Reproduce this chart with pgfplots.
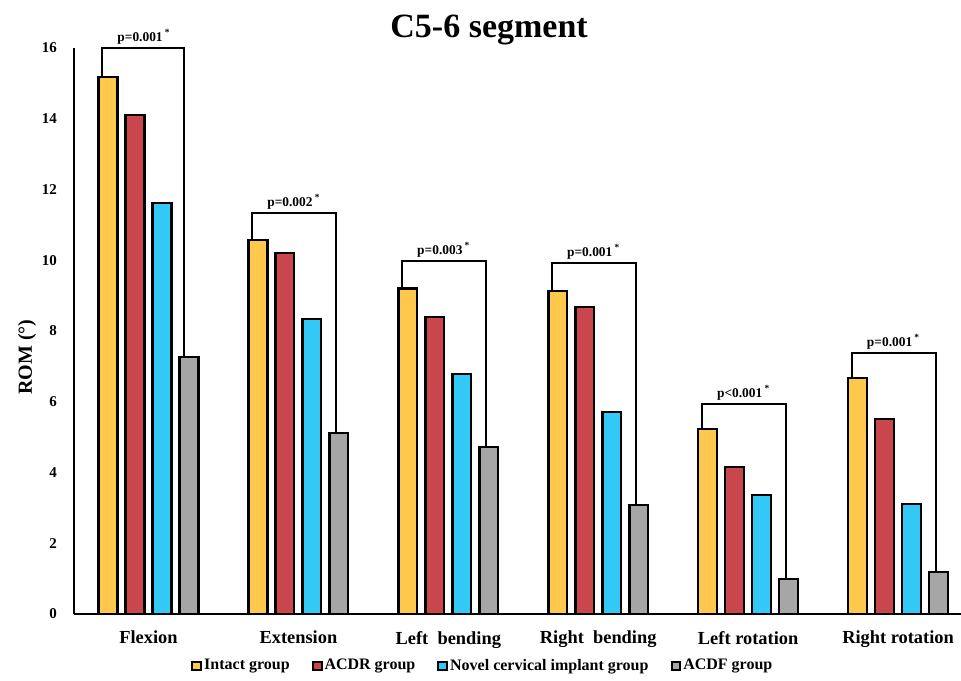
\documentclass[border=0pt]{standalone}
\usepackage{fontspec}
\setmainfont{Liberation Serif}
\usepackage{pgfplots}
\pgfplotsset{compat=1.18}
\definecolor{yc}{RGB}{253,200,75}
\definecolor{rc}{RGB}{200,70,76}
\definecolor{cc}{RGB}{51,201,246}
\definecolor{gc}{RGB}{166,166,166}
\begin{document}
\begin{tikzpicture}
\path[use as bounding box] (0,0) rectangle (480.5pt,340pt);
\begin{axis}[
  at={(37pt,33pt)}, anchor=south west,
  scale only axis, width=443.5pt, height=283pt,
  xmin=-0.497, xmax=5.42, ymin=0, ymax=16,
  clip=false,
  axis x line*=bottom, axis y line*=left,
  axis line style={line width=1pt},
  major tick length=0pt,
  ytick={0,2,...,16},
  xtick={0,...,5},
  xticklabels={Flexion, Extension, Left\ \ bending, Right\ \ bending, Left rotation, Right rotation},
  /pgf/number format/assume math mode=true,
  yticklabel style={font=\bfseries\fontsize{7.5}{9}\selectfont, xshift=-5pt},
  xticklabel style={font=\bfseries\fontsize{9.2}{11}\selectfont, yshift=-5pt},
  ylabel={ROM (°)},
  ylabel style={font=\bfseries\fontsize{10}{12}\selectfont, at={(-0.053,0.454)}, anchor=center},
  legend columns=4,
  legend style={draw=none, at={(0.461,-0.092)}, anchor=center,
    font=\bfseries\fontsize{8}{10}\selectfont,
    nodes={inner sep=1pt},
    /tikz/every even column/.append style={column sep=10pt}},
  legend image code/.code={\draw[#1, line width=1pt] (0pt,-2.2pt) rectangle (4.4pt,2.2pt);},
  bar width=0.125,
  every axis plot/.append style={ybar, draw=black, line width=1.2pt},
]
\addplot[fill=yc, bar shift=-0.27] coordinates {(0,15.18) (1,10.57) (2,9.20) (3,9.13) (4,5.23) (5,6.67)};
\addlegendentry{Intact group}
\addplot[fill=rc, bar shift=-0.09] coordinates {(0,14.10) (1,10.20) (2,8.40) (3,8.68) (4,4.15) (5,5.51)};
\addlegendentry{ACDR group}
\addplot[fill=cc, bar shift=0.09] coordinates {(0,11.62) (1,8.34) (2,6.78) (3,5.71) (4,3.36) (5,3.11)};
\addlegendentry{Novel cervical implant group}
\addplot[fill=gc, bar shift=0.27] coordinates {(0,7.27) (1,5.12) (2,4.72) (3,3.08) (4,0.99) (5,1.19)};
\addlegendentry{ACDF group}

\node[anchor=base, font=\bfseries\fontsize{17}{20}\selectfont] at (rel axis cs:0.468,1.0194) {C5-6 segment};

\tikzset{br/.style={line width=1pt, line join=miter}, pv/.style={anchor=south, inner sep=1.5pt, font=\bfseries\fontsize{6.7}{8}\selectfont}}
\draw[br] (axis cs:-0.31,15.18) |- (axis cs:0.24,16.00) -- (axis cs:0.24,7.27);
\node[pv] at (axis cs:-0.03,16.00) {p=0.001\,\textsuperscript{*}};
\draw[br] (axis cs:0.69,10.57) |- (axis cs:1.25,11.34) -- (axis cs:1.25,5.12);
\node[pv] at (axis cs:0.97,11.34) {p=0.002\,\textsuperscript{*}};
\draw[br] (axis cs:1.69,9.20) |- (axis cs:2.25,9.98) -- (axis cs:2.25,4.72);
\node[pv] at (axis cs:1.97,9.98) {p=0.003\,\textsuperscript{*}};
\draw[br] (axis cs:2.69,9.13) |- (axis cs:3.25,9.92) -- (axis cs:3.25,3.08);
\node[pv] at (axis cs:2.97,9.92) {p=0.001\,\textsuperscript{*}};
\draw[br] (axis cs:3.69,5.23) |- (axis cs:4.25,5.94) -- (axis cs:4.25,0.99);
\node[pv] at (axis cs:3.97,5.94) {p<0.001\,\textsuperscript{*}};
\draw[br] (axis cs:4.69,6.67) |- (axis cs:5.25,7.38) -- (axis cs:5.25,1.19);
\node[pv] at (axis cs:4.97,7.38) {p=0.001\,\textsuperscript{*}};
\end{axis}
\end{tikzpicture}
\end{document}
